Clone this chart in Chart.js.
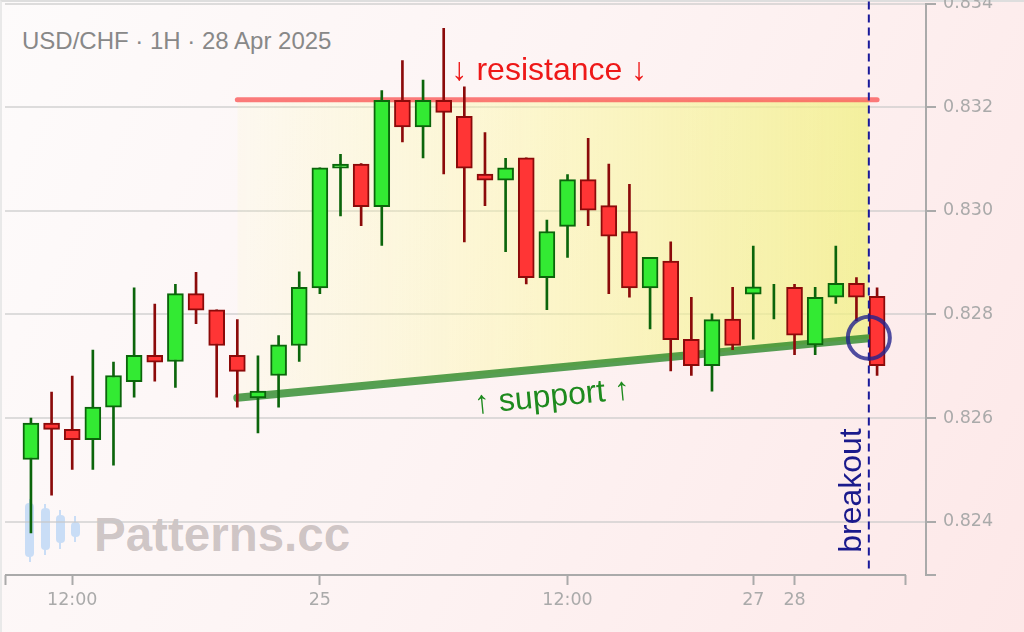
<!DOCTYPE html>
<html>
<head>
<meta charset="utf-8">
<script src="https://cdn.jsdelivr.net/npm/chart.js@4.4.1/dist/chart.umd.min.js"></script>
<style>
html, body { margin: 0; padding: 0; }
body {
  width: 1024px; height: 632px; overflow: hidden; position: relative;
  background: linear-gradient(115deg, #fdfbfb 0%, #fdf4f4 45%, #fde8e8 100%);
  font-family: "Liberation Sans", Arial, sans-serif;
}
.frame { position: absolute; left: 0; top: 0; width: 1024px; height: 632px; border-top: 2px solid #dedede; border-left: 2px solid #e9e9e9; box-sizing: border-box; }
.wrap { position: absolute; left: 0; top: -14px; width: 1024px; height: 646px; }
.title { position: absolute; left: 22px; top: 29px; font-size: 24px; line-height: 24px; color: #888; white-space: nowrap; }
.mark { position: absolute; left: 94px; top: 511px; font-size: 47.5px; line-height: 47px; font-weight: bold; color: rgba(120,108,108,0.36); white-space: nowrap; }
.ico { position: absolute; background: #c9ddf6; }
</style>
</head>
<body>
<div class="frame"></div>
<div class="title">USD/CHF · 1H · 28 Apr 2025</div>
<div id="icon"></div>
<div class="mark">Patterns.cc</div>
<div class="wrap"><canvas id="chart"></canvas></div>
<script>
// hourly candles, 24 Apr 10:00 -> 28 Apr 04:00
const opens  = [0.82520,0.82590,0.82578,0.82558,0.82621,0.82670,0.82721,0.82709,0.82840,0.82809,
                0.82721,0.82639,0.82682,0.82740,0.82851,0.83082,0.83090,0.83008,0.83213,0.83162,
                0.83213,0.83182,0.83071,0.83059,0.83102,0.82871,0.82970,0.83060,0.83010,0.82960,
                0.82851,0.82903,0.82752,0.82701,0.82791,0.82839,0.82840,0.82852,0.82741,0.82833,
                0.82860,0.82835];
const highs  = [0.82600,0.82650,0.82681,0.82731,0.82708,0.82851,0.82820,0.82858,0.82881,0.82809,
                0.82790,0.82720,0.82759,0.82882,0.83083,0.83109,0.83091,0.83232,0.83290,0.83252,
                0.83352,0.83239,0.83151,0.83101,0.83102,0.82982,0.83070,0.83140,0.83090,0.83051,
                0.82910,0.82940,0.82833,0.82801,0.82852,0.82932,0.82858,0.82858,0.82852,0.82932,
                0.82871,0.82851];
const lows   = [0.82378,0.82451,0.82501,0.82501,0.82509,0.82640,0.82671,0.82659,0.82782,0.82640,
                0.82621,0.82571,0.82621,0.82709,0.82840,0.82990,0.82971,0.82933,0.83133,0.83102,
                0.83071,0.82940,0.83010,0.82921,0.82859,0.82809,0.82910,0.82971,0.82840,0.82833,
                0.82772,0.82691,0.82682,0.82652,0.82732,0.82752,0.82791,0.82722,0.82722,0.82821,
                0.82788,0.82682];
const closes = [0.82590,0.82578,0.82558,0.82621,0.82682,0.82721,0.82708,0.82840,0.82808,0.82740,
                0.82690,0.82652,0.82741,0.82852,0.83083,0.83090,0.83008,0.83213,0.83162,0.83213,
                0.83190,0.83082,0.83059,0.83083,0.82871,0.82960,0.83060,0.83001,0.82951,0.82851,
                0.82910,0.82751,0.82701,0.82790,0.82740,0.82853,0.82840,0.82760,0.82833,0.82860,
                0.82833,0.82701];

const xMin = -1.257, xMax = 43.37, xEnd = 42.4;
const xTickPos    = [xMin, 2, 14, 26, 35, 37, xEnd];
const xTickLabels = ['', '12:00', '25', '12:00', '27', '28', ''];

const yMin = 0.82297, yMax = 0.834;
const yTickVals = [yMin, 0.824, 0.826, 0.828, 0.830, 0.832, 0.834];

const resistance = [{x: 10, y: 0.83214}, {x: 41, y: 0.83214}];
const support    = [{x: 10, y: 0.82639}, {x: 40.6, y: 0.82754}];
const zoneTop    = [{x: 10, y: 0.83214}, {x: 40.6, y: 0.83214}];
const breakoutX = 40.6, breakoutY = 0.82755;
const labelX = 25.12;

// watermark icon
const iconBars = [[29.5, 503, 557, 499, 562], [45, 508, 550, 504, 555], [60, 515, 543, 510, 549], [75, 522, 537, 516, 542]];
iconBars.forEach(b => {
  const w = document.createElement('div');
  w.className = 'ico';
  w.style.cssText = `left:${b[0]-1}px;top:${b[3]}px;width:2px;height:${b[4]-b[3]}px`;
  document.getElementById('icon').appendChild(w);
  const r = document.createElement('div');
  r.className = 'ico';
  r.style.cssText = `left:${b[0]-4.5}px;top:${b[1]}px;width:9px;height:${b[2]-b[1]}px;border-radius:4px`;
  document.getElementById('icon').appendChild(r);
});

const green = '#33ea33', greenEdge = '#0b650b', red = '#ff3535', redEdge = '#8b0a0a';
const isUp = i => closes[i] >= opens[i];

function zoneFill(c) {
  const chart = c.chart, sx = chart.scales.x;
  if (!chart.chartArea || !sx) return 'rgba(245,245,150,0.4)';
  const a = sx.getPixelForValue(zoneTop[0].x), b = sx.getPixelForValue(zoneTop[1].x);
  if (!isFinite(a) || !isFinite(b)) return 'rgba(245,245,150,0.4)';
  const g = chart.ctx.createLinearGradient(a, 0, b, 0);
  g.addColorStop(0, 'rgba(255,255,170,0.1)');
  g.addColorStop(0.5, 'rgba(250,248,150,0.45)');
  g.addColorStop(1, 'rgba(240,240,130,0.75)');
  return g;
}

const overlay = {
  id: 'overlay',
  afterDatasetsDraw(chart) {
    const {ctx, chartArea, scales: {x, y}} = chart;
    ctx.save();
    // x axis line (stops short of the y axis)
    ctx.strokeStyle = '#aaa';
    ctx.lineWidth = 2;
    ctx.beginPath();
    ctx.moveTo(x.getPixelForValue(xMin), chartArea.bottom);
    ctx.lineTo(x.getPixelForValue(xEnd), chartArea.bottom);
    ctx.stroke();

    // breakout dashed line
    const bx = x.getPixelForValue(breakoutX);
    ctx.strokeStyle = '#1a1a9a';
    ctx.lineWidth = 2;
    ctx.setLineDash([8, 5]);
    ctx.beginPath();
    ctx.moveTo(bx, chartArea.top - 2);
    ctx.lineTo(bx, chartArea.bottom - 3);
    ctx.stroke();
    ctx.setLineDash([]);

    // breakout circle
    ctx.strokeStyle = 'rgba(35,35,140,0.8)';
    ctx.lineWidth = 4;
    ctx.beginPath();
    ctx.arc(bx, y.getPixelForValue(breakoutY), 21, 0, Math.PI * 2);
    ctx.stroke();

    ctx.font = '32px "Liberation Sans", Arial, sans-serif';
    ctx.textAlign = 'center';
    ctx.textBaseline = 'alphabetic';

    // resistance label
    ctx.fillStyle = '#ee1818';
    ctx.fillText('↓ resistance ↓', x.getPixelForValue(labelX), y.getPixelForValue(resistance[0].y) - 20);

    // support label, along the line
    const x0 = x.getPixelForValue(support[0].x), y0 = y.getPixelForValue(support[0].y);
    const x1 = x.getPixelForValue(support[1].x), y1 = y.getPixelForValue(support[1].y);
    const lx = x.getPixelForValue(labelX);
    const ly = y0 + (y1 - y0) * (lx - x0) / (x1 - x0);
    ctx.save();
    ctx.translate(lx, ly);
    ctx.rotate(Math.atan2(y1 - y0, x1 - x0));
    ctx.fillStyle = '#1e8a1e';
    ctx.fillText('↑ support ↑', 0, 38);
    ctx.restore();

    // breakout label
    ctx.save();
    ctx.translate(bx - 8, y.getPixelForValue(0.8246));
    ctx.rotate(-Math.PI / 2);
    ctx.fillStyle = '#1a1a8c';
    ctx.fillText('breakout', 0, 0);
    ctx.restore();

    ctx.restore();
  }
};

const ctx = document.getElementById('chart').getContext('2d');
const chart = new Chart(ctx, {
  type: 'bar',
  data: {
    datasets: [{
      // wicks
      data: opens.map((o, i) => ({x: i, y: [lows[i], highs[i]]})),
      barThickness: 2,
      borderWidth: 0,
      grouped: false,
      backgroundColor: c => isUp(c.dataIndex) ? greenEdge : redEdge,
      order: 1
    }, {
      // bodies
      data: opens.map((o, i) => ({x: i, y: [o, closes[i]]})),
      barThickness: 16,
      borderWidth: 2,
      borderSkipped: false,
      grouped: false,
      backgroundColor: c => opens[c.dataIndex] === closes[c.dataIndex] ? 'transparent' : (isUp(c.dataIndex) ? green : red),
      borderColor: c => opens[c.dataIndex] === closes[c.dataIndex] ? 'transparent' : (isUp(c.dataIndex) ? greenEdge : redEdge),
      order: 0
    }, {
      type: 'line',
      data: resistance,
      borderColor: 'rgba(250,90,90,0.8)',
      borderWidth: 5,
      borderCapStyle: 'round',
      pointRadius: 0,
      fill: false,
      order: 2
    }, {
      type: 'line',
      data: support,
      borderColor: 'rgba(30,130,30,0.75)',
      borderWidth: 8,
      borderCapStyle: 'round',
      pointRadius: 0,
      fill: false,
      order: 2
    }, {
      type: 'line',
      data: zoneTop,
      borderWidth: 0,
      borderColor: 'transparent',
      pointRadius: 0,
      fill: 3,
      backgroundColor: zoneFill,
      order: 3
    }]
  },
  options: {
    responsive: true,
    maintainAspectRatio: false,
    animation: false,
    events: [],
    layout: { padding: { left: 3, top: 12, right: 0, bottom: 0 } },
    plugins: {
      legend: { display: false },
      tooltip: { enabled: false }
    },
    scales: {
      x: {
        type: 'linear',
        min: xMin,
        max: xMax,
        offset: false,
        border: { display: false },
        grid: { offset: false, drawOnChartArea: false, drawTicks: true, tickLength: 10, tickColor: '#aaa', tickWidth: 2 },
        afterBuildTicks: s => { s.ticks = xTickPos.map(v => ({value: v})); },
        afterFit: s => { s.height = 57; },
        ticks: {
          autoSkip: false,
          maxRotation: 0,
          padding: 5,
          color: '#aaa',
          font: { family: '"DejaVu Sans", sans-serif', size: 17.5 },
          callback: (v, i) => xTickLabels[i]
        }
      },
      y: {
        position: 'right',
        min: yMin,
        max: yMax,
        border: { display: true, color: '#aaa', width: 2 },
        grid: {
          color: c => c.index === 0 ? 'transparent' : 'rgba(200,200,200,0.6)',
          lineWidth: 2,
          drawTicks: true,
          tickLength: 10,
          tickColor: '#aaa',
          tickWidth: 2
        },
        afterBuildTicks: s => { s.ticks = yTickVals.map(v => ({value: v})); },
        afterFit: s => { s.width = 98; },
        ticks: {
          padding: 7,
          color: '#aaa',
          font: { family: '"DejaVu Sans", sans-serif', size: 17.5 },
          callback: (v, i) => i === 0 ? '' : v.toFixed(3)
        }
      }
    }
  },
  plugins: [overlay]
});
</script>
</body>
</html>
